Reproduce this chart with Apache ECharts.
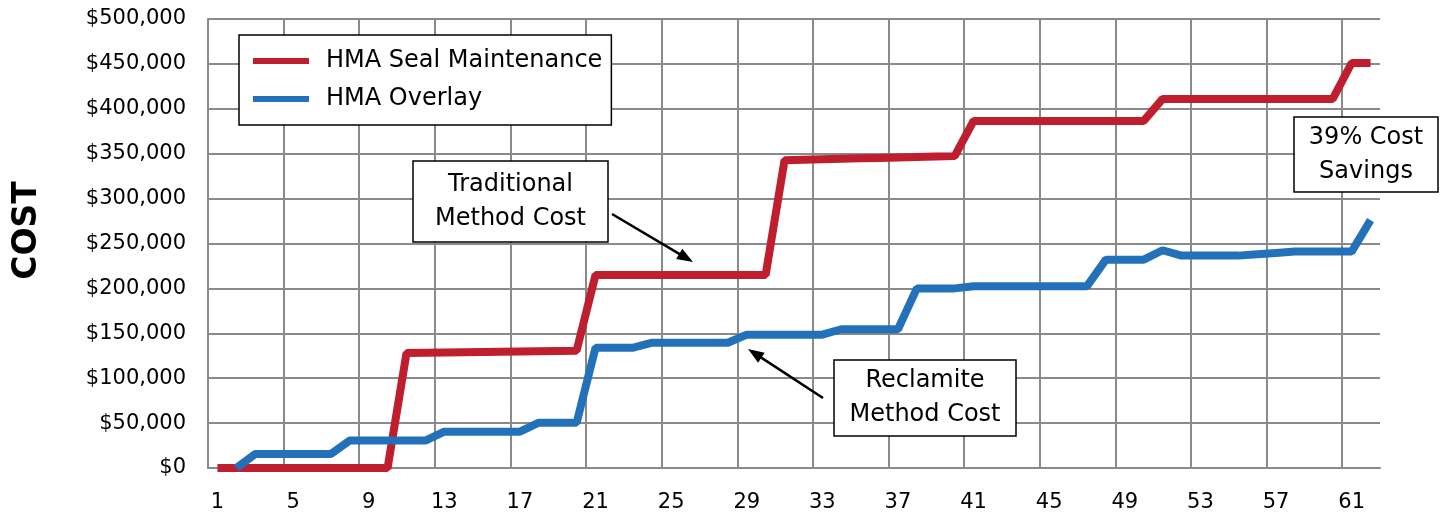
<!DOCTYPE html>
<html>
<head>
<meta charset="utf-8">
<script src="https://cdn.jsdelivr.net/npm/echarts@6/dist/echarts.min.js"></script>
<style>
html,body{margin:0;padding:0;background:#fff;}
#chart{width:1445px;height:514px;}
</style>
</head>
<body>
<div id="chart"></div>
<script>
// ---- data ----
const years = ['1','2','3','4','5','6','7','8','9','10','11','12','13','14','15','16','17','18','19','20',
  '21','22','23','24','25','26','27','28','29','30','31','32','33','34','35','36','37','38','39','40',
  '41','42','43','44','45','46','47','48','49','50','51','52','53','54','55','56','57','58','59','60','61','62'];

const sealMaintenance = [
  0,0,0,0,0,0,0,0,0,0,
  128000,128300,128600,128900,129200,129500,129800,130100,130400,130700,
  215000,215000,215000,215000,215000,215000,215000,215000,215000,215000,
  342800,343300,343800,344300,344800,345300,345800,346300,346800,347300,
  386500,386500,386500,386500,386500,386500,386500,386500,386500,386500,
  411000,411000,411000,411000,411000,411000,411000,411000,411000,411000,
  451000,451000
];

const overlay = [
  null,0,15500,15500,15500,15500,15500,30500,30500,30500,
  30500,30500,40500,40500,40500,40500,40500,50500,50500,50500,
  134000,134000,134000,139500,139500,139500,139500,139500,148500,148500,
  148500,148500,148500,154500,154500,154500,154500,200000,200000,200000,
  202500,202500,202500,202500,202500,202500,202500,232000,232000,232000,
  242500,236500,236500,236500,236500,238000,239500,241000,241000,241000,
  241000,276000
];

const seriesNames = ['HMA Seal Maintenance', 'HMA Overlay'];
const yMin = 0, yMax = 500000, yStep = 50000;
const xLabelStep = 4;
const yAxisTitle = 'COST';
const notes = {
  traditional: 'Traditional\nMethod Cost',
  reclamite: 'Reclamite\nMethod Cost',
  savings: '39% Cost\nSavings'
};

// ---- style ----
const FONT = 'DejaVu Sans';
const GRID_COLOR = '#8a8a8a';
const RED = '#be1e2d';
const BLUE = '#2372b9';

// vertical grid lines: one per label group, the closing boundary at the right edge is hidden
const vLineCount = Math.ceil(years.length / xLabelStep);
const vLineColors = new Array(vLineCount).fill(GRID_COLOR).concat(['rgba(0,0,0,0)']);

function arrow(x1, y1, x2, y2) {
  const len = 16, half = 6;
  const dx = x2 - x1, dy = y2 - y1;
  const d = Math.sqrt(dx*dx + dy*dy);
  const ux = dx / d, uy = dy / d;
  const bx = x2 - ux * len, by = y2 - uy * len;
  const px = -uy, py = ux;
  return [
    {type:'line', shape:{x1:x1, y1:y1, x2:bx + ux*2, y2:by + uy*2}, style:{stroke:'#000', lineWidth:2.5}, z:100},
    {type:'polygon', shape:{points:[[x2,y2],[bx+px*half,by+py*half],[bx-px*half,by-py*half]]}, style:{fill:'#000'}, z:100}
  ];
}

function box(x, y, w, h, text) {
  return [
    {type:'rect', shape:{x:x, y:y, width:w, height:h}, style:{fill:'#fff', stroke:'#000', lineWidth:1.5}, z:100},
    {type:'text', x:x + w/2, y:y + h/2, z:101,
     style:{text:text, fontFamily:FONT, fontSize:24, fill:'#000', align:'center', verticalAlign:'middle',
            textAlign:'center', textVerticalAlign:'middle', lineHeight:34}}
  ];
}

const chart = echarts.init(document.getElementById('chart'), null, {renderer:'canvas'});

const option = {
  animation: false,
  backgroundColor: '#fff',
  textStyle: {fontFamily: FONT},
  grid: {left: 208, right: 65, top: 19, bottom: 46, containLabel: false},
  legend: {
    left: 239, top: 35, orient: 'vertical',
    backgroundColor: '#fff', borderColor: '#000', borderWidth: 1.5, borderRadius: 0,
    padding: [12, 9, 12, 14], itemGap: 10, itemWidth: 56, itemHeight: 6, icon: 'rect',
    textStyle: {fontFamily: FONT, fontSize: 24, color: '#000', lineHeight: 28, padding: [0,0,0,12]},
    data: seriesNames,
    z: 50
  },
  xAxis: {
    type: 'category',
    data: years,
    boundaryGap: true,
    axisLine: {show: true, lineStyle: {color: GRID_COLOR, width: 2}},
    axisTick: {show: false, interval: xLabelStep - 1},
    axisLabel: {interval: xLabelStep - 1, margin: 24, fontFamily: FONT, fontSize: 21, color: '#000'},
    splitLine: {show: true, interval: xLabelStep - 1, lineStyle: {color: vLineColors, width: 2}}
  },
  yAxis: {
    type: 'value',
    min: yMin, max: yMax, interval: yStep,
    name: yAxisTitle,
    nameLocation: 'middle',
    nameGap: 164,
    nameRotate: 90,
    nameTextStyle: {fontFamily: FONT, fontSize: 33, fontWeight: 'bold', color: '#000', padding: [0,0,0,26]},
    axisLine: {show: true, lineStyle: {color: GRID_COLOR, width: 2}},
    axisTick: {show: false},
    axisLabel: {
      margin: 22, fontFamily: FONT, fontSize: 21, color: '#000',
      formatter: v => '$' + v.toLocaleString('en-US')
    },
    splitLine: {show: true, lineStyle: {color: GRID_COLOR, width: 2}}
  },
  series: [
    {name: seriesNames[0], type: 'line', data: sealMaintenance, symbol: 'none',
     lineStyle: {color: RED, width: 8}, itemStyle: {color: RED}, z: 3},
    {name: seriesNames[1], type: 'line', data: overlay, symbol: 'none', connectNulls: false,
     lineStyle: {color: BLUE, width: 8}, itemStyle: {color: BLUE}, z: 4}
  ],
  graphic: [].concat(
    box(413, 161, 195, 81, notes.traditional),
    arrow(612, 214, 693, 262),
    box(834, 360, 182, 76, notes.reclamite),
    arrow(823, 398, 748, 349),
    box(1294, 117, 144, 75, notes.savings)
  )
};

chart.setOption(option);
</script>
</body>
</html>
